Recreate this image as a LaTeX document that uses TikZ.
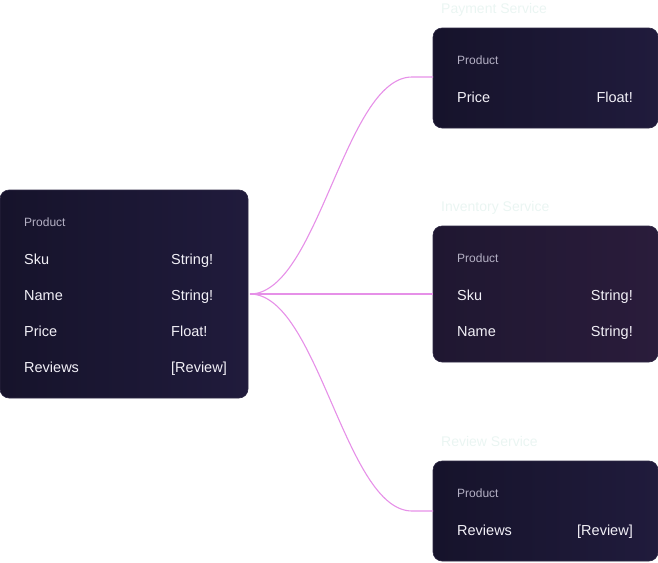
\documentclass[tikz,border=0pt]{standalone}
\usepackage{fontspec}
\setmainfont{Liberation Sans}
\begin{document}
\begin{tikzpicture}[x=1pt,y=-1pt,
  card/.style={rounded corners=9pt, draw=cardedge, line width=0.6pt},
  head/.style={anchor=mid west, inner sep=0pt, yshift=-2.5pt, text=headgrey, font=\fontsize{12}{14}\selectfont},
  field/.style={anchor=mid west, inner sep=0pt, yshift=-3pt, text=fieldwhite, font=\fontsize{14.5}{17}\selectfont},
  ftype/.style={anchor=mid east, inner sep=0pt, yshift=-3pt, text=fieldwhite, font=\fontsize{14.5}{17}\selectfont},
  ftypel/.style={anchor=mid west, inner sep=0pt, yshift=-3pt, text=fieldwhite, font=\fontsize{14.5}{17}\selectfont},
  svc/.style={anchor=mid west, inner sep=0pt, yshift=-2.5pt, text=svccol, font=\fontsize{14}{16}\selectfont},
  link/.style={draw=linkcol, line width=1.1pt}]
\definecolor{cardedge}{HTML}{2E2944}
\definecolor{headgrey}{HTML}{B4B0C4}
\definecolor{fieldwhite}{HTML}{F2F0F7}
\definecolor{svccol}{HTML}{EAF5F2}
\definecolor{linkcol}{HTML}{E690E8}
\definecolor{navyA}{HTML}{16132B}
\definecolor{navyB}{HTML}{201B3C}
\definecolor{plumA}{HTML}{1F1731}
\definecolor{plumB}{HTML}{2A1C3B}
\useasboundingbox (0,0) rectangle (658,562);
% cards
\path[card, left color=navyA, right color=navyB] (0,190) rectangle (248,398);
\path[card, left color=navyA, right color=navyB] (433,28) rectangle (658,128);
\path[card, left color=plumA, right color=plumB] (433,226) rectangle (658,362);
\path[card, left color=navyA, right color=navyB] (433,461) rectangle (658,561);
% anchor coordinates
\coordinate (src) at (250,294);
\coordinate (payin) at (433,77);
\coordinate (invin) at (433,294);
\coordinate (revin) at (433,511);
\coordinate (payk) at (412,77);
\coordinate (revk) at (412,511);
% connectors
\draw[link] (src) .. controls (318,294) and (345,77) .. (payk) -- (payin);
\draw[link] (src) -- (invin);
\draw[link] (src) .. controls (318,294) and (345,511) .. (revk) -- (revin);
% left card
\node[head] (lh) at (24,221) {Product};
\node[field] (l1) at (24,259) {Sku};
\node[ftypel] (l1t) at (171,259) {String!};
\node[field] (l2) at (24,295) {Name};
\node[ftypel] (l2t) at (171,295) {String!};
\node[field] (l3) at (24,331) {Price};
\node[ftypel] (l3t) at (171,331) {Float!};
\node[field] (l4) at (24,367) {Reviews};
\node[ftypel] (l4t) at (171,367) {[Review]};
% payment
\node[svc] (ps) at (441,8) {Payment Service};
\node[head] (ph) at (457,59) {Product};
\node[field] (p1) at (457,97) {Price};
\node[ftype] (p1t) at (633,97) {Float!};
% inventory
\node[svc] (is) at (441,206) {Inventory Service};
\node[head] (ih) at (457,257) {Product};
\node[field] (i1) at (457,295) {Sku};
\node[ftype] (i1t) at (633,295) {String!};
\node[field] (i2) at (457,331) {Name};
\node[ftype] (i2t) at (633,331) {String!};
% review
\node[svc] (rs) at (441,441) {Review Service};
\node[head] (rh) at (457,492) {Product};
\node[field] (r1) at (457,530) {Reviews};
\node[ftype] (r1t) at (633,530) {[Review]};
\end{tikzpicture}
\end{document}
